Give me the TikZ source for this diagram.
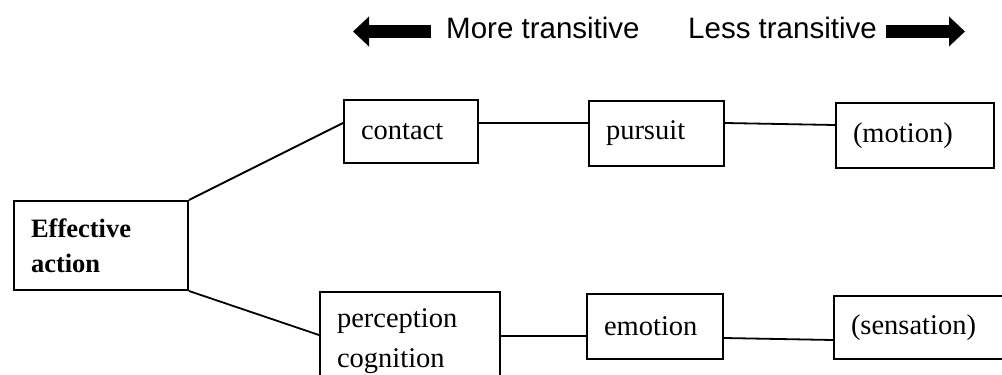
\documentclass[tikz,border=0pt]{standalone}
\usepackage{fontspec}
\usepackage{tikz}
\usetikzlibrary{arrows.meta,positioning}
\newfontfamily\boxfont{Liberation Serif}
\newfontfamily\headfont{Liberation Sans}
\tikzset{box node/.style={rectangle,draw,line width=2pt,anchor=north west,align=left,inner xsep=17pt,inner ysep=0pt,
                          font=\boxfont\fontsize{28.5}{40}\selectfont},
         top label/.style={anchor=base west,inner sep=0pt,font=\headfont\fontsize{29.5}{34}\selectfont},
         fat arrow/.style={line width=13pt,-{Triangle[length=16pt,width=29pt]}},
         link/.style={line width=1.8pt}
}
\begin{document}
\begin{tikzpicture}[x=1pt,y=-1pt]
\useasboundingbox (0,0) rectangle (1002,375);
\clip (0,0) rectangle (1002,375);

\node [top label] (more) at (446,38) {More transitive};
\node [top label] (less) at (688,38) {Less transitive};
\coordinate (more tail) at (431,31.5);
\coordinate (more tip) at (353,31.5);
\coordinate (less tail) at (886,31.5);
\coordinate (less tip) at (965,31.5);
\draw [fat arrow] (more tail) -- (more tip);
\draw [fat arrow] (less tail) -- (less tip);

\node [box node, text width=140pt, minimum height=89pt,
       font=\boxfont\bfseries\fontsize{26.5}{35}\selectfont] (effective) at (13,200) {Effective\\action};
\node [box node, text width=100pt, minimum height=63pt] (contact) at (343,99) {contact};
\node [box node, text width=101pt, minimum height=65pt] (pursuit) at (588,100) {pursuit};
\node [box node, text width=124pt, minimum height=65pt] (motion) at (835,102) {(motion)};
\node [box node, text width=146pt, minimum height=98pt] (perception) at (319,291) {perception\\cognition};
\node [box node, text width=102pt, minimum height=65pt] (emotion) at (586,293) {emotion};
\node [box node, text width=166pt, minimum height=63pt] (sensation) at (833,295) {(sensation)};

\draw [link] (effective.north east) -- ([yshift=8.5pt]contact.west);
\draw [link] (effective.south east) -- ([yshift=6pt]perception.west);
\draw [link] ([yshift=8.5pt]contact.east) -- ([yshift=10.5pt]pursuit.west);
\draw [link] ([yshift=10.5pt]pursuit.east) -- ([yshift=10.5pt]motion.west);
\draw [link] ([yshift=5pt]perception.east) -- ([yshift=-9.5pt]emotion.west);
\draw [link] ([yshift=-11.5pt]emotion.east) -- ([yshift=-12.5pt]sensation.west);
\end{tikzpicture}
\end{document}
